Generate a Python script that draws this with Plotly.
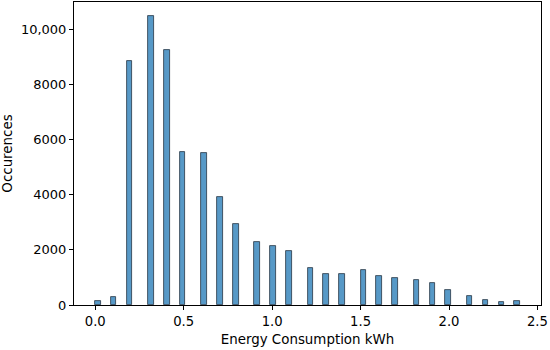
import math
import plotly.graph_objects as go

# Energy consumption values (kWh) and their occurrence counts
energy_kwh = [0.0, 0.1, 0.2, 0.3, 0.4, 0.5, 0.6, 0.7, 0.8, 0.9, 1.0, 1.1, 1.2,
              1.3, 1.4, 1.5, 1.6, 1.7, 1.8, 1.9, 2.0, 2.1, 2.2, 2.3, 2.4]
occurrences = [135, 280, 8850, 10470, 9260, 5555, 5510, 3920, 2930, 2300, 2155,
               1960, 1330, 1115, 1140, 1270, 1065, 980, 920, 790, 555, 330,
               170, 100, 160]

x_ticks = [0.0, 0.5, 1.0, 1.5, 2.0, 2.5]
x_tick_labels = ["0.0", "0.5", "1.0", "1.5", "2.0", "2.5"]
y_ticks = [0, 2000, 4000, 6000, 8000, 10000]
y_tick_labels = ["0", "2000", "4000", "6000", "8000", "10,000"]

# histogram binning (80 bins over the data range, like numpy auto bins)
n_bins = 80
lo, hi = min(energy_kwh), max(energy_kwh)
bw = (hi - lo) / n_bins
bin_left = [lo + min(int(math.floor((v - lo) / bw + 1e-9)), n_bins - 1) * bw for v in energy_kwh]
bin_center = [b + bw / 2 for b in bin_left]

fig = go.Figure(go.Bar(
    x=bin_center, y=occurrences, width=[bw] * len(bin_center),
    marker=dict(color="rgb(87,153,199)", line=dict(color="rgba(25,38,52,0.9)", width=0.8)),
))

pad = (hi - lo) * 0.05
ymax = max(occurrences) * 1.05
font = "DejaVu Sans"
fig.update_layout(
    width=550, height=350,
    margin=dict(l=74, r=9, t=2, b=45),
    plot_bgcolor="white", paper_bgcolor="white",
    showlegend=False, bargap=0,
    font=dict(family=font, size=13, color="black"),
    xaxis=dict(range=[lo - pad, hi + pad], tickvals=x_ticks, ticktext=x_tick_labels,
               ticks="outside", ticklen=4, tickcolor="black", showgrid=False, zeroline=False,
               showline=True, linecolor="black", linewidth=1, mirror=True, automargin=False,
               tickfont=dict(size=13.2),
               title=dict(text="Energy Consumption kWh", font=dict(size=13.4), standoff=6)),
    yaxis=dict(range=[0, ymax], tickvals=y_ticks, ticktext=y_tick_labels,
               ticks="outside", ticklen=4, tickcolor="black", showgrid=False, zeroline=False,
               showline=True, linecolor="black", linewidth=1, mirror=True, automargin=False,
               tickfont=dict(size=13),
               title=dict(text="Occurences", font=dict(size=13.4), standoff=6)),
)

fig.write_html("out.html", config={"displayModeBar": False},
               post_script="document.body.style.margin='0';")
